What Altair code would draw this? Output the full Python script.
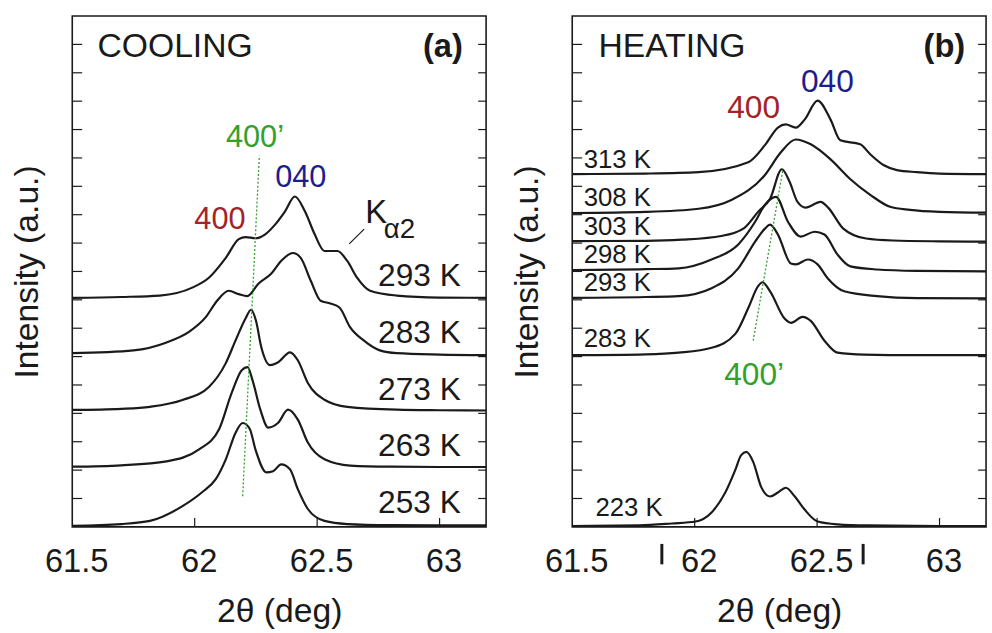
import altair as alt
import pandas as pd

FONT = "Liberation Sans"
W, H = 418, 516
INK = "#1a1a1a"
RED = "#a3232a"
BLUE = "#1d1d8e"
GREEN = "#33a02c"

XDOM = [61.5, 63.19]
YDOM = [0, 18]
x_tick_values = [61.5, 62.0, 62.5, 63.0]
x_inner_ticks = [62.0, 62.5, 63.0]
y_tick_values = list(range(1, 18))

# ---------------- (a) COOLING ----------------
c253_x = [61.5, 61.7, 61.817, 61.95, 62.03, 62.086, 62.127, 62.167, 62.196, 62.225, 62.248, 62.293, 62.32, 62.353, 62.389, 62.421, 62.462, 62.53, 62.623, 62.8, 63.0, 63.19]
c253_y = [0.04, 0.1, 0.21, 0.73, 1.22, 1.68, 2.38, 3.32, 3.66, 3.45, 2.73, 1.92, 1.96, 2.20, 2.03, 1.33, 0.63, 0.21, 0.1, 0.06, 0.05, 0.05]
c263_x = [61.5, 61.7, 61.885, 62.018, 62.099, 62.151, 62.192, 62.216, 62.236, 62.268, 62.300, 62.341, 62.381, 62.421, 62.462, 62.530, 62.635, 62.8, 63.0, 63.19]
c263_y = [2.12, 2.17, 2.31, 2.73, 3.43, 4.72, 5.52, 5.63, 5.17, 4.13, 3.50, 3.67, 4.13, 3.78, 2.97, 2.38, 2.16, 2.12, 2.11, 2.11]
c273_x = [61.5, 61.7, 61.817, 61.95, 62.058, 62.127, 62.167, 62.208, 62.23, 62.25, 62.272, 62.308, 62.341, 62.389, 62.421, 62.462, 62.530, 62.623, 62.825, 63.0, 63.19]
c273_y = [4.12, 4.16, 4.23, 4.47, 4.93, 5.77, 6.57, 7.35, 7.65, 7.27, 6.33, 5.70, 5.80, 6.15, 5.87, 5.07, 4.48, 4.23, 4.13, 4.11, 4.1]
c283_x = [61.5, 61.75, 61.885, 61.978, 62.046, 62.09, 62.139, 62.18, 62.215, 62.26, 62.312, 62.353, 62.401, 62.433, 62.474, 62.514, 62.554, 62.591, 62.635, 62.69, 62.756, 62.825, 63.0, 63.19]
c283_y = [6.12, 6.22, 6.5, 6.88, 7.4, 7.95, 8.32, 8.2, 8.13, 8.57, 8.92, 9.37, 9.65, 9.48, 8.67, 7.97, 7.87, 7.73, 7.03, 6.57, 6.22, 6.12, 6.07, 6.05]
c293_x = [61.5, 61.7, 61.857, 61.990, 62.058, 62.127, 62.180, 62.208, 62.248, 62.288, 62.329, 62.369, 62.409, 62.450, 62.490, 62.530, 62.583, 62.623, 62.663, 62.716, 62.825, 63.0, 63.19]
c293_y = [8.07, 8.1, 8.15, 8.43, 8.78, 9.48, 10.14, 10.21, 10.17, 10.31, 10.66, 11.12, 11.64, 11.12, 10.31, 9.72, 9.72, 9.37, 8.78, 8.32, 8.15, 8.08, 8.07]

cool_names = ["253 K", "263 K", "273 K", "283 K", "293 K"]
cool_xs = [c253_x, c263_x, c273_x, c283_x, c293_x]
cool_ys = [c253_y, c263_y, c273_y, c283_y, c293_y]

cool_label_text = ["293 K", "283 K", "273 K", "263 K", "253 K"]
cool_label_x = [63.087] * 5
cool_label_y = [8.85, 6.82, 4.83, 2.83, 0.84]

cool_guide_x = [62.196, 62.264]
cool_guide_y = [1.08, 13.08]

# ---------------- (b) HEATING ----------------
h223_x = [61.5, 61.773, 61.907, 62.004, 62.069, 62.125, 62.166, 62.19, 62.211, 62.239, 62.271, 62.308, 62.34, 62.372, 62.409, 62.449, 62.502, 62.583, 62.71, 63.0, 63.19]
h223_y = [0.03, 0.05, 0.12, 0.19, 0.51, 1.21, 2.01, 2.53, 2.64, 2.29, 1.42, 1.07, 1.21, 1.38, 1.07, 0.61, 0.19, 0.09, 0.05, 0.03, 0.03]
h283_x = [61.5, 61.8, 61.935, 62.069, 62.166, 62.219, 62.259, 62.277, 62.308, 62.368, 62.393, 62.441, 62.474, 62.530, 62.583, 62.692, 62.9, 63.19]
h283_y = [6.05, 6.08, 6.14, 6.31, 6.80, 7.71, 8.48, 8.62, 8.30, 7.33, 7.19, 7.40, 7.26, 6.56, 6.14, 6.07, 6.05, 6.05]
h293_x = [61.5, 61.8, 61.935, 62.069, 62.178, 62.247, 62.287, 62.308, 62.34, 62.393, 62.413, 62.462, 62.502, 62.543, 62.611, 62.745, 62.907, 63.19]
h293_y = [8.07, 8.1, 8.13, 8.41, 9.11, 10.05, 10.51, 10.65, 10.3, 9.28, 9.25, 9.42, 9.25, 8.76, 8.30, 8.13, 8.06, 8.05]
h298_x = [61.5, 61.8, 61.935, 62.069, 62.178, 62.247, 62.287, 62.332, 62.381, 62.433, 62.490, 62.530, 62.583, 62.636, 62.745, 62.907, 63.19]
h298_y = [9.05, 9.08, 9.11, 9.42, 9.95, 10.75, 11.35, 11.63, 10.75, 10.23, 10.40, 10.30, 9.60, 9.18, 9.07, 9.02, 9.0]
h303_x = [61.5, 61.8, 61.947, 62.109, 62.202, 62.259, 62.308, 62.356, 62.388, 62.42, 62.453, 62.514, 62.545, 62.607, 62.70, 62.81, 63.0, 63.19]
h303_y = [10.07, 10.08, 10.12, 10.25, 10.53, 11.1, 11.56, 12.6, 12.15, 11.45, 11.25, 11.45, 11.25, 10.51, 10.16, 10.09, 10.06, 10.05]
h308_x = [61.5, 61.8, 62.016, 62.150, 62.287, 62.352, 62.413, 62.474, 62.555, 62.636, 62.717, 62.798, 62.879, 63.0, 63.19]
h308_y = [11.06, 11.1, 11.21, 11.52, 12.40, 13.20, 13.65, 13.48, 12.95, 12.25, 11.70, 11.28, 11.17, 11.1, 11.07]
h313_x = [61.5, 61.8, 62.016, 62.219, 62.287, 62.340, 62.372, 62.413, 62.449, 62.502, 62.555, 62.595, 62.676, 62.717, 62.773, 62.826, 62.907, 63.0, 63.19]
h313_y = [12.43, 12.45, 12.5, 12.85, 13.45, 14.07, 14.18, 14.07, 14.35, 15.02, 14.35, 13.62, 13.48, 13.13, 12.74, 12.57, 12.5, 12.45, 12.43]

heat_names = ["223 K", "283 K", "293 K", "298 K", "303 K", "308 K", "313 K"]
heat_xs = [h223_x, h283_x, h293_x, h298_x, h303_x, h308_x, h313_x]
heat_ys = [h223_y, h283_y, h293_y, h298_y, h303_y, h308_y, h313_y]

heat_label_text = ["313 K", "308 K", "303 K", "298 K", "293 K", "283 K", "223 K"]
heat_label_x = [61.547, 61.547, 61.547, 61.547, 61.547, 61.547, 61.595]
heat_label_y = [12.94, 11.59, 10.58, 9.58, 8.6, 6.61, 0.65]

heat_guide_x = [62.239, 62.36]
heat_guide_y = [6.56, 12.57]

heat_marks_x = [61.866, 62.688]
heat_marks_y_top = [-0.6, -0.6]
heat_marks_y_bot = [-1.32, -1.32]

XS = alt.Scale(domain=XDOM, nice=False, zero=False)
YS = alt.Scale(domain=YDOM, nice=False, zero=False)

x_axis = alt.Axis(values=x_tick_values, labelExpr="'' + datum.value", ticks=False, domain=False,
                  grid=False, labelFontSize=33, labelFont=FONT, labelColor=INK, labelPadding=19,
                  labelOffset=4, labelFlush=False, titleFontSize=34, titleFont=FONT,
                  titleFontWeight="normal", titleColor=INK, titlePadding=17)
y_axis = alt.Axis(labels=False, ticks=False, domain=False, grid=False,
                  titleFontSize=34, titleFont=FONT, titleFontWeight="normal", titleColor=INK,
                  titlePadding=28)


def long_df(names, xs, ys):
    rows = []
    for n, xx, yy in zip(names, xs, ys):
        for a, b in zip(xx, yy):
            rows.append({"T": n, "x": a, "y": b})
    return pd.DataFrame(rows)


def X():
    return alt.X("x:Q", scale=XS, axis=x_axis, title="2θ (deg)")


def Y():
    return alt.Y("y:Q", scale=YS, axis=y_axis, title="Intensity (a.u.)")


def text_layer(df, size, color=INK, align="center", baseline="middle", weight="normal"):
    return alt.Chart(df).mark_text(
        font=FONT, fontSize=size, color=color, align=align, baseline=baseline, fontWeight=weight
    ).encode(x=X(), y=Y(), text="t:N")


def one(text, x, y):
    return pd.DataFrame({"t": [text], "x": [x], "y": [y]})


def frame_ticks():
    ydf = pd.DataFrame({"y": y_tick_values})
    xdf = pd.DataFrame({"x": x_inner_ticks})
    left = alt.Chart(ydf).mark_rule(color=INK, strokeWidth=1.2).encode(
        y=Y(), x=alt.value(0), x2=alt.value(10))
    right = alt.Chart(ydf).mark_rule(color=INK, strokeWidth=1.2).encode(
        y=Y(), x=alt.value(W - 8), x2=alt.value(W))
    bottom = alt.Chart(xdf).mark_rule(color=INK, strokeWidth=1.2).encode(
        x=X(), y=alt.value(H - 9), y2=alt.value(H))
    return [left, right, bottom]


def panel(names, xs, ys, guide_x, guide_y):
    curves = alt.Chart(long_df(names, xs, ys)).mark_line(
        interpolate="monotone", color=INK, strokeWidth=2.2
    ).encode(x=X(), y=Y(), detail="T:N")
    guide = alt.Chart(pd.DataFrame({"x": guide_x, "y": guide_y})).mark_line(
        color=GREEN, strokeDash=[2, 2], strokeWidth=1.3
    ).encode(x=X(), y=Y())
    return curves, guide


# panel a
ca, ga = panel(cool_names, cool_xs, cool_ys, cool_guide_x, cool_guide_y)
a_layers = [ca, ga] + frame_ticks() + [
    text_layer(pd.DataFrame({"t": cool_label_text, "x": cool_label_x, "y": cool_label_y}), 32, align="right"),
    text_layer(one("COOLING", 61.603, 16.92), 34, align="left"),
    text_layer(one("(a)", 63.095, 16.92), 33, align="right", weight="bold"),
    text_layer(one("400’", 62.246, 13.71), 31, color=GREEN),
    text_layer(one("400", 62.103, 10.82), 31, color=RED),
    text_layer(one("040", 62.433, 12.29), 31, color=BLUE),
    text_layer(one("K", 62.696, 10.70), 33, align="left", baseline="alphabetic"),
    text_layer(one("α2", 62.772, 10.17), 28, align="left", baseline="alphabetic"),
    alt.Chart(pd.DataFrame({"x": [62.631], "y": [9.97], "x2": [62.692], "y2": [10.49]})).mark_rule(
        color=INK, strokeWidth=1.2).encode(x=X(), y=Y(), x2="x2:Q", y2="y2:Q"),
]
chart_a = alt.layer(*a_layers).properties(width=W, height=H)

# panel b
cb, gb = panel(heat_names, heat_xs, heat_ys, heat_guide_x, heat_guide_y)
b_layers = [cb, gb] + frame_ticks() + [
    text_layer(pd.DataFrame({"t": heat_label_text, "x": heat_label_x, "y": heat_label_y}), 26, align="left"),
    text_layer(one("HEATING", 61.607, 16.92), 34, align="left"),
    text_layer(one("(b)", 63.105, 16.92), 33, align="right", weight="bold"),
    text_layer(one("400", 62.241, 14.77), 32, color=RED),
    text_layer(one("040", 62.542, 15.68), 32, color=BLUE),
    text_layer(one("400’", 62.243, 5.36), 32, color=GREEN),
    alt.Chart(pd.DataFrame({"x": heat_marks_x, "y": heat_marks_y_top, "y2": heat_marks_y_bot})).mark_rule(
        color=INK, strokeWidth=3).encode(x=X(), y=Y(), y2="y2:Q"),
]
chart_b = alt.layer(*b_layers).properties(width=W, height=H)

chart = alt.hconcat(chart_a, chart_b, spacing=18).properties(
    padding={"top": 12, "left": 10, "right": 0, "bottom": 0}
).configure(
    font=FONT, background="white",
    view=alt.ViewConfig(stroke=INK, strokeWidth=1.6),
)

chart.save("out.html", embed_options={"renderer": "svg", "actions": False})
